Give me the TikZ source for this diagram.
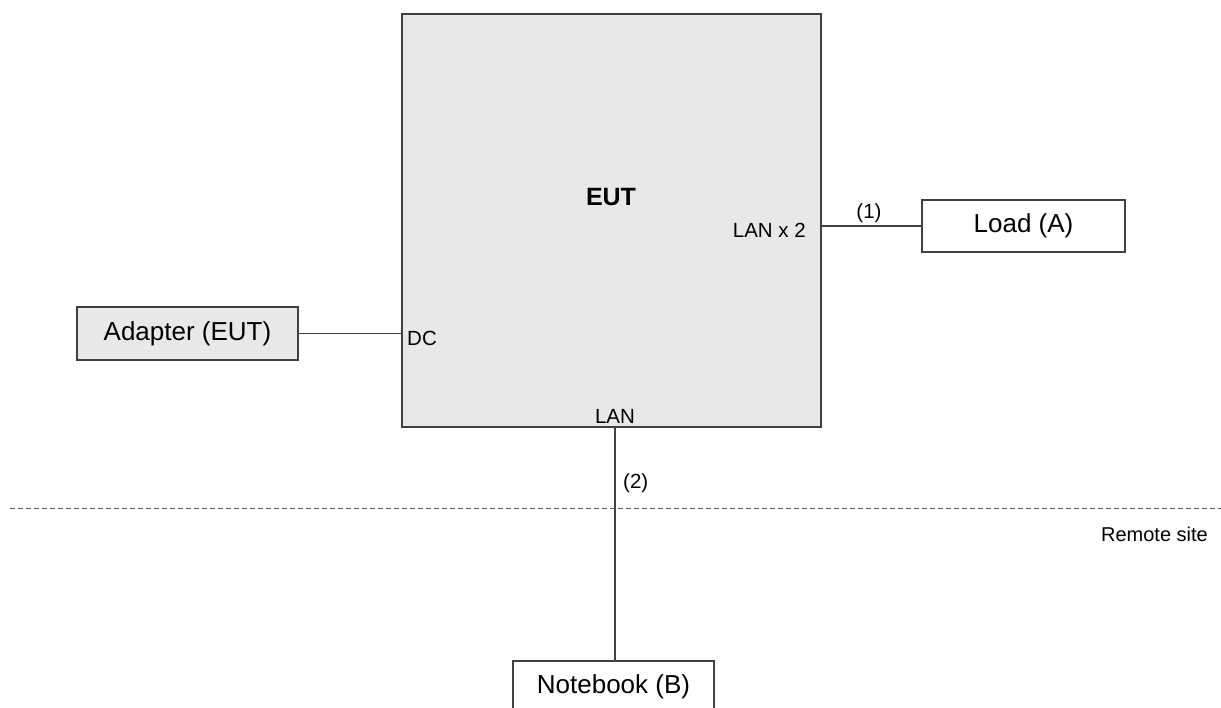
\documentclass[tikz,border=0pt]{standalone}
\usepackage{fontspec}
\setmainfont{Liberation Sans}
\begin{document}
\begin{tikzpicture}[x=1pt,y=-1pt,
  boxline/.style={draw=black!75, line width=1.5pt},
  graybox/.style={boxline, fill=black!9, inner sep=0pt},
  whitebox/.style={boxline, fill=white, inner sep=0pt},
  bigtxt/.style={font=\fontsize{26}{30}\selectfont},
  smalltxt/.style={font=\fontsize{20.5}{24}\selectfont, inner sep=0pt},
  wire/.style={draw=black!75, line width=1.2pt},
  sitedash/.style={draw=black!65, line width=1pt, dash pattern=on 5pt off 3pt}
]
\useasboundingbox (0,0) rectangle (1221,707);
\clip (0,0) rectangle (1221,707);

% EUT
\node[graybox, minimum width=419pt, minimum height=413pt] (eut) at (611.5,220.5) {};
\node[font=\fontsize{25}{30}\selectfont\bfseries, inner sep=0pt, anchor=base] (eutlbl) at (611,205) {EUT};
\node[smalltxt, anchor=base east] (lanx2) at (806,237) {LAN x 2};
\node[smalltxt, anchor=base west] (dc) at (407,345) {DC};
\node[smalltxt, anchor=base] (lanb) at (615,423) {LAN};

% Peripheral boxes
\node[whitebox, bigtxt, minimum width=203pt, minimum height=52pt] (load) at (1023.5,226) {Load (A)};
\node[graybox, bigtxt, minimum width=221pt, minimum height=53pt] (adapter) at (187.5,333.5) {Adapter (EUT)};
\node[whitebox, bigtxt, minimum width=201pt, minimum height=52pt] (nb) at (613.5,687) {Notebook (B)};

% Connectors
\draw[wire] (adapter.east) -- (adapter.east -| eut.west);
\draw[wire] (eut.east |- load.west) -- (load.west);
\coordinate (lanbot) at (615,427);
\draw[wire] (lanbot) -- (lanbot |- nb.north);

% Cable labels
\node[smalltxt, anchor=base] (c1) at (869,218) {(1)};
\node[smalltxt, anchor=base west] (c2) at (623,488) {(2)};

% Remote site separator
\coordinate (dashL) at (10,508);
\coordinate (dashR) at (1221,508);
\draw[sitedash] (dashL) -- (dashR);
\node[font=\fontsize{20}{24}\selectfont, inner sep=0pt, anchor=base east] (remote) at (1208,541) {Remote site};
\end{tikzpicture}
\end{document}
